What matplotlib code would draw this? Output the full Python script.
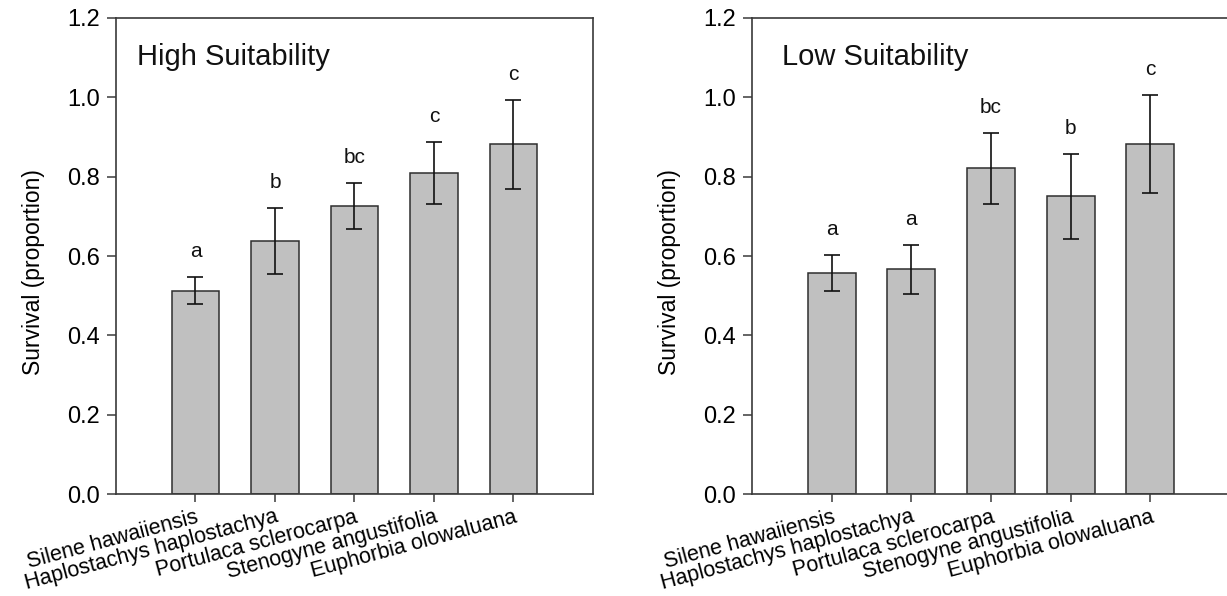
import numpy as np
import matplotlib
matplotlib.use("Agg")
import matplotlib.pyplot as plt

plt.rcParams['font.family'] = ['Liberation Sans', 'DejaVu Sans']

species = ['Silene hawaiiensis', 'Haplostachys haplostachya', 'Portulaca sclerocarpa',
           'Stenogyne angustifolia', 'Euphorbia olowaluana']

# survival means, standard errors and post-hoc groups for each site type
high_mean = [0.513, 0.638, 0.727, 0.810, 0.882]
high_err = [0.034, 0.083, 0.058, 0.078, 0.112]
high_groups = ['a', 'b', 'bc', 'c', 'c']

low_mean = [0.558, 0.567, 0.821, 0.751, 0.882]
low_err = [0.045, 0.062, 0.090, 0.107, 0.123]
low_groups = ['a', 'a', 'bc', 'b', 'c']

panels = [
    ('High Suitability', high_mean, high_err, high_groups),
    ('Low Suitability', low_mean, low_err, low_groups),
]

spine_col = '#3a3a3a'

fig = plt.figure(figsize=(12.27, 5.96), dpi=100)
ax_left = fig.add_axes([0.0945, 0.1711, 0.3888, 0.7987])
ax_right = fig.add_axes([0.6129, 0.1711, 0.3896, 0.7987])

for ax, (title, mean, err, groups), tx in zip([ax_left, ax_right], panels, [0.044, 0.063]):
    x = np.arange(1, len(species) + 1)
    ax.bar(x, mean, width=0.6, color='#c0c0c0', edgecolor='#2e2e2e', linewidth=1.1, zorder=2)
    ax.errorbar(x, mean, yerr=err, fmt='none', ecolor='#111111', elinewidth=1.2,
                capsize=6, capthick=1.2, zorder=3)
    for xi, m, e, g in zip(x, mean, err, groups):
        ax.text(xi, m + e + 0.04, g, ha='center', va='bottom', fontsize=15, color='#111111')

    ax.set_xlim(0, 6)
    ax.set_ylim(0, 1.2)
    ax.set_yticks(np.arange(0, 1.21, 0.2))
    ax.set_yticklabels([f'{v:.1f}' for v in np.arange(0, 1.21, 0.2)])
    ax.set_xticks(x)
    ax.set_xticklabels(species, rotation=15, ha='right', va='top', rotation_mode='anchor')
    ax.tick_params(axis='y', direction='out', length=6.5, width=1.1, color=spine_col,
                   labelsize=17, pad=5)
    ax.tick_params(axis='x', direction='out', length=6, width=1.1, color=spine_col,
                   labelsize=15.5, pad=3)
    for s in ax.spines.values():
        s.set_color(spine_col)
        s.set_linewidth(1.2)
    ax.set_ylabel('Survival (proportion)', fontsize=16.5)
    ax.yaxis.set_label_coords(-0.148, 0.466)
    ax.text(tx, 0.918, title, transform=ax.transAxes, ha='left', va='center',
            fontsize=21, color='#111111')

fig.savefig('out.png', dpi=100)
